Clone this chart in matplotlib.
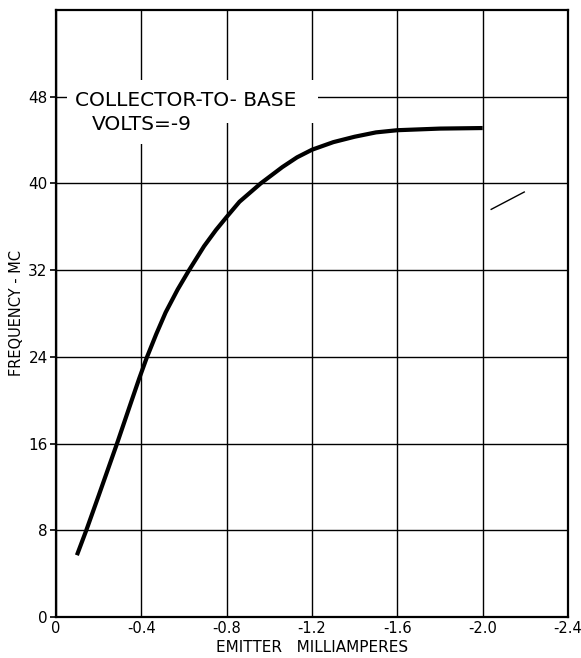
import matplotlib.pyplot as plt
from matplotlib.patches import Rectangle

# --- data ---
emitter_ma = [-0.098, -0.142, -0.2, -0.286, -0.35, -0.39, -0.425, -0.47,
              -0.514, -0.57, -0.624, -0.694, -0.75, -0.8, -0.86, -0.96,
              -1.061, -1.13, -1.2, -1.3, -1.4, -1.5, -1.6, -1.8, -2.0]
freq_mc = [5.7, 8.0, 11.2, 16.0, 19.7, 22.0, 23.9, 26.1,
           28.1, 30.2, 32.0, 34.2, 35.7, 36.9, 38.3, 40.0,
           41.5, 42.4, 43.1, 43.8, 44.3, 44.7, 44.9, 45.05, 45.1]

# small stray pencil stroke at the right of the sheet
stray_x = [-2.04, -2.195]
stray_y = [37.6, 39.2]

x_ticks = [0, -0.4, -0.8, -1.2, -1.6, -2.0, -2.4]
x_tick_labels = ["0", "-0.4", "-0.8", "-1.2", "-1.6", "-2.0", "-2.4"]
y_ticks = [0, 8, 16, 24, 32, 40, 48]

fig = plt.figure(figsize=(5.81, 6.58), dpi=100)
ax = fig.add_axes([0.0964, 0.0623, 0.8812, 0.9227])

ax.set_xlim(0, -2.4)
ax.set_ylim(0, 56)

ax.set_xticks(x_ticks)
ax.set_xticklabels(x_tick_labels, fontsize=10.5)
ax.set_yticks(y_ticks)
ax.set_yticklabels([str(v) for v in y_ticks], fontsize=11)
ax.tick_params(axis="x", length=0, pad=3)
ax.tick_params(axis="y", length=4, width=1.2, pad=2)

ax.grid(True, color="black", linewidth=1.0)
ax.set_axisbelow(True)
for sp in ax.spines.values():
    sp.set_linewidth(1.6)

ax.plot(emitter_ma, freq_mc, color="black", linewidth=3.0,
        solid_capstyle="butt", solid_joinstyle="round", zorder=3)
ax.plot(stray_x, stray_y, color="black", linewidth=1.0, zorder=3)

# white patches behind the annotation, they hide the grid like the original
ax.add_patch(Rectangle((-0.052, 45.6), -1.176, 3.9, facecolor="white",
                       edgecolor="none", zorder=2))
ax.add_patch(Rectangle((-0.052, 43.65), -0.62, 2.0, facecolor="white",
                       edgecolor="none", zorder=2))
ax.text(-0.09, 47.66, "COLLECTOR-TO- BASE", fontsize=14.5,
        ha="left", va="center", zorder=4)
ax.text(-0.169, 45.4, "VOLTS=-9", fontsize=14.5,
        ha="left", va="center", zorder=4)

ax.set_xlabel("EMITTER   MILLIAMPERES", fontsize=11, labelpad=3)
ax.set_ylabel("FREQUENCY - MC", fontsize=10.5, labelpad=3)

fig.savefig("out.png", dpi=100)
